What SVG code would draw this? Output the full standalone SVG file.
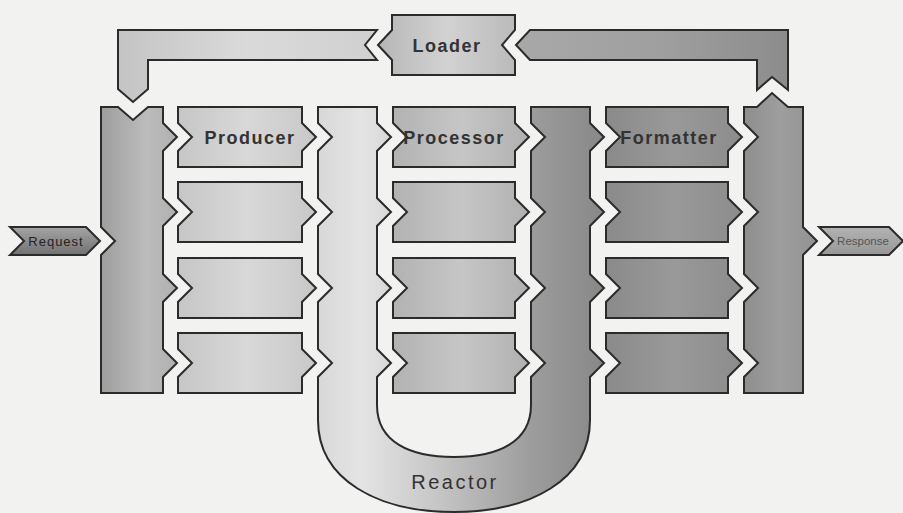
<svg xmlns="http://www.w3.org/2000/svg" xmlns:xlink="http://www.w3.org/1999/xlink" width="903" height="513" viewBox="0 0 903 513">
  <defs>
    <style>
      .shape { stroke: #2b2b2b; stroke-width: 2; stroke-linejoin: miter; }
      .label { font-family: "Liberation Sans", Arial, sans-serif; font-size: 18px; font-weight: bold; letter-spacing: 1.5px; fill: #333; text-anchor: middle; }
      .small { font-family: "Liberation Sans", Arial, sans-serif; text-anchor: middle; }
    </style>
    <linearGradient id="gLeftBar" x1="0" y1="0" x2="1" y2="0">
      <stop offset="0" stop-color="#9e9e9e"/>
      <stop offset="0.6" stop-color="#bcbcbc"/>
      <stop offset="1" stop-color="#b0b0b0"/>
    </linearGradient>
    <linearGradient id="gProducer" x1="0" y1="0" x2="1" y2="0">
      <stop offset="0" stop-color="#c6c6c6"/>
      <stop offset="0.5" stop-color="#d8d8d8"/>
      <stop offset="1" stop-color="#c8c8c8"/>
    </linearGradient>
    <linearGradient id="gProcessor" x1="0" y1="0" x2="1" y2="0">
      <stop offset="0" stop-color="#b2b2b2"/>
      <stop offset="0.5" stop-color="#c6c6c6"/>
      <stop offset="1" stop-color="#b0b0b0"/>
    </linearGradient>
    <linearGradient id="gFormatter" x1="0" y1="0" x2="1" y2="0">
      <stop offset="0" stop-color="#8a8a8a"/>
      <stop offset="0.5" stop-color="#999999"/>
      <stop offset="1" stop-color="#8c8c8c"/>
    </linearGradient>
    <linearGradient id="gRightBar" x1="0" y1="0" x2="1" y2="0">
      <stop offset="0" stop-color="#8e8e8e"/>
      <stop offset="0.5" stop-color="#9e9e9e"/>
      <stop offset="1" stop-color="#929292"/>
    </linearGradient>
    <linearGradient id="gReactor" gradientUnits="userSpaceOnUse" x1="318" y1="0" x2="604" y2="0">
      <stop offset="0" stop-color="#d8d8d8"/>
      <stop offset="0.15" stop-color="#e4e4e4"/>
      <stop offset="0.4" stop-color="#c8c8c8"/>
      <stop offset="0.75" stop-color="#9c9c9c"/>
      <stop offset="1" stop-color="#888888"/>
    </linearGradient>
    <linearGradient id="gLoader" x1="0" y1="0" x2="1" y2="0">
      <stop offset="0" stop-color="#b6b6b6"/>
      <stop offset="0.5" stop-color="#d2d2d2"/>
      <stop offset="1" stop-color="#bababa"/>
    </linearGradient>
    <linearGradient id="gArmLeft" x1="0" y1="0" x2="1" y2="0">
      <stop offset="0" stop-color="#c4c4c4"/>
      <stop offset="0.5" stop-color="#dadada"/>
      <stop offset="1" stop-color="#d0d0d0"/>
    </linearGradient>
    <linearGradient id="gArmRight" x1="0" y1="0" x2="1" y2="0">
      <stop offset="0" stop-color="#a8a8a8"/>
      <stop offset="0.5" stop-color="#a0a0a0"/>
      <stop offset="1" stop-color="#8c8c8c"/>
    </linearGradient>
    <linearGradient id="gRequest" x1="0" y1="0" x2="0" y2="1">
      <stop offset="0" stop-color="#a4a4a4"/>
      <stop offset="1" stop-color="#727272"/>
    </linearGradient>
    <linearGradient id="gResponse" x1="0" y1="0" x2="0" y2="1">
      <stop offset="0" stop-color="#b2b2b2"/>
      <stop offset="1" stop-color="#989898"/>
    </linearGradient>
    <!-- stage boxes: notch on the left, chevron out on the right -->
    <path id="box124" d="M0,0 H124 V16 L138,30 L124,44 V60 H0 V44 L14,30 L0,16 Z"/>
    <path id="box122" d="M0,0 H122 V16 L136,30 L122,44 V60 H0 V44 L14,30 L0,16 Z"/>
  </defs>

  <rect width="903" height="513" fill="#f2f2f0"/>

  <!-- feedback arrows through the loader -->
  <g id="connectors">
    <path class="shape" fill="url(#gArmLeft)" d="M118,30 H377 L365,45 L377,60 H148 V89 L133,102 L118,89 Z"/>
    <path class="shape" fill="url(#gArmRight)" d="M516,45 L530,30 H788 V90 L772,77 L757,90 V60 H530 Z"/>
  </g>

  <g id="loader">
    <path class="shape" fill="url(#gLoader)" d="M392,15 H515 V30 L502,45 L515,60 V75 H392 V60 L378,45 L392,30 Z"/>
    <text class="label" x="447" y="51.5">Loader</text>
  </g>

  <g id="request">
    <path class="shape" fill="url(#gRequest)" d="M10,227 H86 L100,241 L86,255 H10 L24,241 Z"/>
    <text class="small" x="56" y="246" font-size="13" letter-spacing="1" fill="#222">Request</text>
  </g>

  <g id="input-bar">
    <path class="shape" fill="url(#gLeftBar)" d="M101,107 H118 L133,120 L148,107 H163 V123 L177,137 L163,151 V198 L177,212 L163,226 V274 L177,288 L163,302 V349 L177,363 L163,377 V393 H101 V255 L115,241 L101,227 Z"/>
  </g>

  <g id="producer-1" transform="translate(178,107)">
    <use href="#box124" class="shape" fill="url(#gProducer)"/>
    <text class="label" x="72" y="36.5">Producer</text>
  </g>
  <g id="producer-2" transform="translate(178,182)">
    <use href="#box124" class="shape" fill="url(#gProducer)"/>
  </g>
  <g id="producer-3" transform="translate(178,258)">
    <use href="#box124" class="shape" fill="url(#gProducer)"/>
  </g>
  <g id="producer-4" transform="translate(178,333)">
    <use href="#box124" class="shape" fill="url(#gProducer)"/>
  </g>

  <g id="reactor">
    <path class="shape" fill="url(#gReactor)" d="M318,107 H377 V123 L391,137 L377,151 V198 L391,212 L377,226 V274 L391,288 L377,302 V349 L391,363 L377,377 V405 C377,442 410,457 454,457 C498,457 531,442 531,405 V377 L545,363 L531,349 V302 L545,288 L531,274 V226 L545,212 L531,198 V151 L545,137 L531,123 V107 H590 V123 L604,137 L590,151 V198 L604,212 L590,226 V274 L604,288 L590,302 V349 L604,363 L590,377 V420 C590,480 530,512 454,512 C378,512 318,480 318,420 V377 L332,363 L318,349 V302 L332,288 L318,274 V226 L332,212 L318,198 V151 L332,137 L318,123 Z"/>
    <text class="small" x="455" y="489" font-size="20" letter-spacing="2.5" fill="#333">Reactor</text>
  </g>

  <g id="processor-1" transform="translate(393,107)">
    <use href="#box122" class="shape" fill="url(#gProcessor)"/>
    <text class="label" x="61" y="36.5">Processor</text>
  </g>
  <g id="processor-2" transform="translate(393,182)">
    <use href="#box122" class="shape" fill="url(#gProcessor)"/>
  </g>
  <g id="processor-3" transform="translate(393,258)">
    <use href="#box122" class="shape" fill="url(#gProcessor)"/>
  </g>
  <g id="processor-4" transform="translate(393,333)">
    <use href="#box122" class="shape" fill="url(#gProcessor)"/>
  </g>

  <g id="formatter-1" transform="translate(606,107)">
    <use href="#box122" class="shape" fill="url(#gFormatter)"/>
    <text class="label" x="63" y="36.5">Formatter</text>
  </g>
  <g id="formatter-2" transform="translate(606,182)">
    <use href="#box122" class="shape" fill="url(#gFormatter)"/>
  </g>
  <g id="formatter-3" transform="translate(606,258)">
    <use href="#box122" class="shape" fill="url(#gFormatter)"/>
  </g>
  <g id="formatter-4" transform="translate(606,333)">
    <use href="#box122" class="shape" fill="url(#gFormatter)"/>
  </g>

  <g id="output-bar">
    <path class="shape" fill="url(#gRightBar)" d="M744,107 H757 L772,93 L788,107 H803 V227 L817,241 L803,255 V393 H744 V377 L758,363 L744,349 V302 L758,288 L744,274 V226 L758,212 L744,198 V151 L758,137 L744,123 Z"/>
  </g>

  <g id="response">
    <path class="shape" fill="url(#gResponse)" d="M819,227 H889 L903,241 L889,255 H819 L833,241 Z"/>
    <text class="small" x="863" y="245" font-size="11.5" fill="#555">Response</text>
  </g>
</svg>
